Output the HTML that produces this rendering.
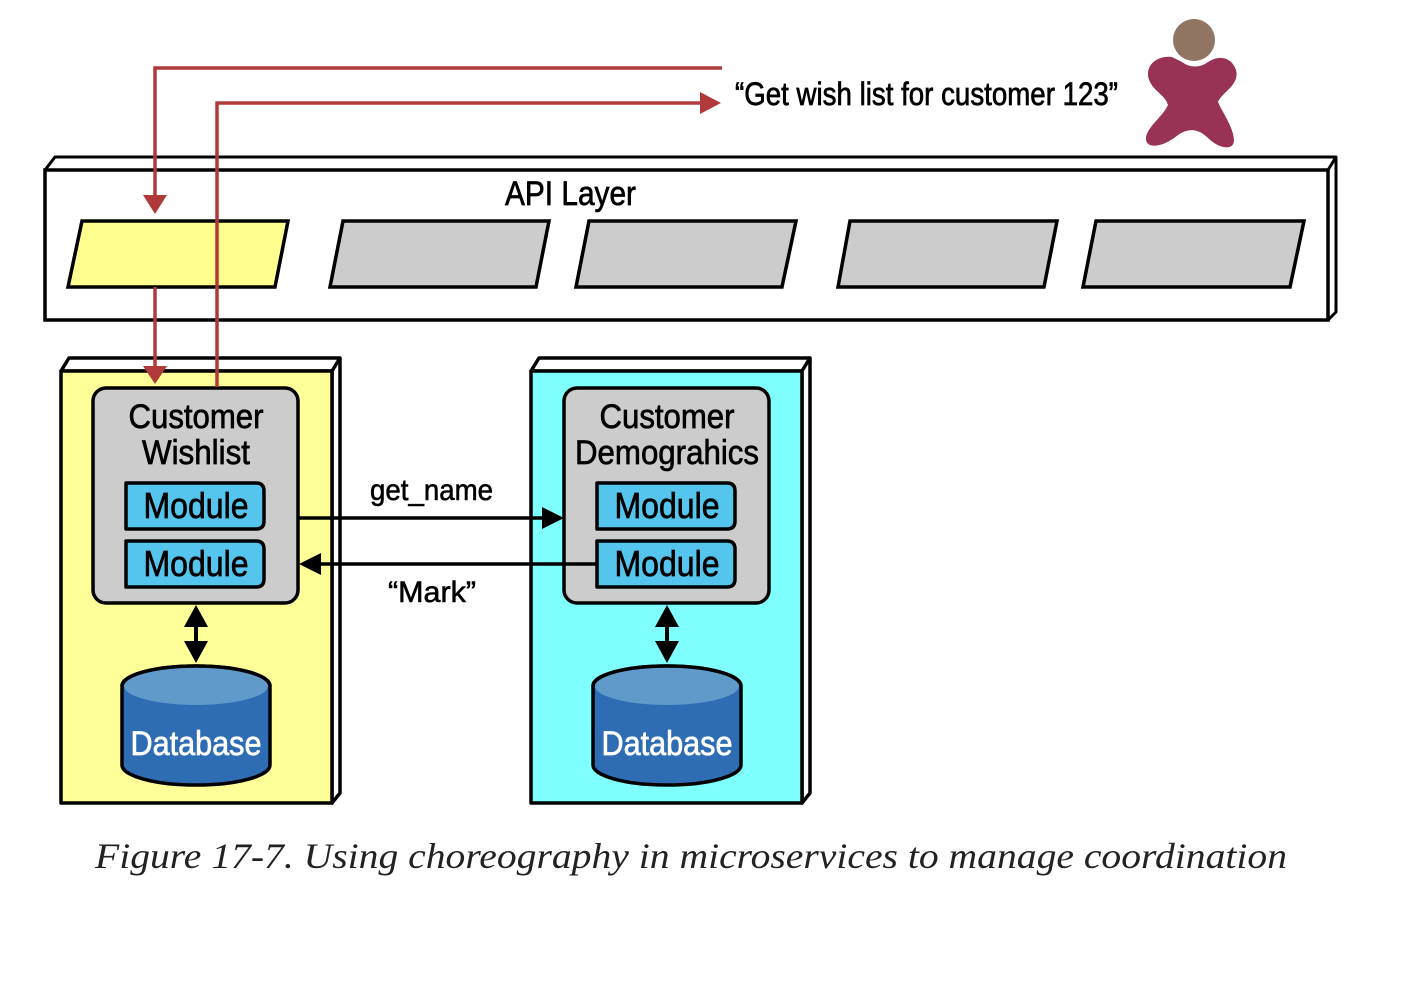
<!DOCTYPE html>
<html><head><meta charset="utf-8"><style>html,body{margin:0;padding:0;background:#fff}svg{display:block}</style></head>
<body>
<svg width="1414" height="1006" viewBox="0 0 1414 1006" xmlns="http://www.w3.org/2000/svg" font-family="Liberation Sans, sans-serif">
<!-- API layer -->
<polygon points="45,170 55,157 1336,157 1336,312 1328,320 1328,170" fill="#fff" stroke="#000" stroke-width="3" stroke-linejoin="round"/>
<line x1="1328" y1="170" x2="1336" y2="157" stroke="#000" stroke-width="3"/>
<rect x="45" y="170" width="1283" height="150" fill="#fff" stroke="#000" stroke-width="3.5"/>
<text x="505" y="205" font-size="34" stroke="#000" stroke-width="0.7" textLength="131" lengthAdjust="spacingAndGlyphs">API Layer</text>
<polygon points="82,221 288,221 275,287 68,287" fill="#ffff8f" stroke="#000" stroke-width="3.5"/>
<polygon points="343,221 549,221 536,287 330,287" fill="#cccccc" stroke="#000" stroke-width="3.5"/>
<polygon points="589,221 796,221 782,287 576,287" fill="#cccccc" stroke="#000" stroke-width="3.5"/>
<polygon points="850,221 1057,221 1044,287 838,287" fill="#cccccc" stroke="#000" stroke-width="3.5"/>
<polygon points="1096,221 1304,221 1290,287 1083,287" fill="#cccccc" stroke="#000" stroke-width="3.5"/>

<!-- person -->
<circle cx="1194" cy="40" r="21" fill="#8f7562"/>
<path d="M1172,57 C1155,55 1143,68 1150,82 C1155,92 1165,95 1168,105 C1162,118 1145,128 1146,140 C1148,150 1165,146 1178,135 C1188,128 1198,128 1208,138 C1218,148 1234,152 1234,140 C1233,126 1222,112 1218,102 C1222,92 1240,85 1236,70 C1232,58 1220,54 1208,62 C1200,68 1190,68 1182,62 Z" fill="#993355"/>

<text x="735" y="105" font-size="32" stroke="#000" stroke-width="0.7" textLength="383" lengthAdjust="spacingAndGlyphs">“Get wish list for customer 123”</text>

<!-- service boxes -->
<g stroke="#000" stroke-width="3.5" stroke-linejoin="round">
<polygon points="61,371 69,358 340,358 340,793 332,803 332,371" fill="#fff"/>
<line x1="332" y1="371" x2="340" y2="358"/>
<rect x="61" y="371" width="271" height="432" fill="#ffff99"/>
<polygon points="531,371 539,358 810,358 810,793 802,803 802,371" fill="#fff"/>
<line x1="802" y1="371" x2="810" y2="358"/>
<rect x="531" y="371" width="271" height="432" fill="#80ffff"/>
<rect x="93" y="388" width="205" height="215" rx="13" fill="#cccccc"/>
<rect x="564" y="388" width="205" height="215" rx="13" fill="#cccccc"/>
<path d="M126,483 H256 Q264,483 264,491 V521 Q264,529 256,529 H126 Z" fill="#55c5ee"/>
<path d="M126,541 H256 Q264,541 264,549 V579 Q264,587 256,587 H126 Z" fill="#55c5ee"/>
<path d="M597,483 H727 Q735,483 735,491 V521 Q735,529 727,529 H597 Z" fill="#55c5ee"/>
<path d="M597,541 H727 Q735,541 735,549 V579 Q735,587 727,587 H597 Z" fill="#55c5ee"/>
</g>

<!-- red arrows (on top) -->
<polyline points="722,68 155,68 155,200" fill="none" stroke="#b03a3a" stroke-width="3.5"/>
<polyline points="217,387 217,103 705,103" fill="none" stroke="#b03a3a" stroke-width="3.5"/>
<line x1="155" y1="287" x2="155" y2="370" stroke="#b03a3a" stroke-width="3.5"/>
<polygon points="143,366 167,366 155,384" fill="#b03a3a"/>
<polygon points="143,195 167,195 155,214" fill="#b03a3a"/>
<polygon points="700,92 700,114 721,103" fill="#b03a3a"/>

<g font-size="34" text-anchor="middle" stroke="#000" stroke-width="0.7">
<text x="196" y="428" textLength="135" lengthAdjust="spacingAndGlyphs">Customer</text>
<text x="196" y="464" textLength="108" lengthAdjust="spacingAndGlyphs">Wishlist</text>
<text x="196" y="518" font-size="36" textLength="105" lengthAdjust="spacingAndGlyphs">Module</text>
<text x="196" y="576" font-size="36" textLength="105" lengthAdjust="spacingAndGlyphs">Module</text>
<text x="667" y="428" textLength="135" lengthAdjust="spacingAndGlyphs">Customer</text>
<text x="667" y="464" textLength="184" lengthAdjust="spacingAndGlyphs">Demograhics</text>
<text x="667" y="518" font-size="36" textLength="105" lengthAdjust="spacingAndGlyphs">Module</text>
<text x="667" y="576" font-size="36" textLength="105" lengthAdjust="spacingAndGlyphs">Module</text>
</g>

<!-- connectors -->
<line x1="298" y1="518" x2="545" y2="518" stroke="#000" stroke-width="3.5"/>
<polygon points="542,507 542,529 564,518" fill="#000"/>
<line x1="597" y1="564" x2="318" y2="564" stroke="#000" stroke-width="3.5"/>
<polygon points="321,553 321,575 299,564" fill="#000"/>
<text x="370" y="500" font-size="30" stroke="#000" stroke-width="0.6" textLength="123" lengthAdjust="spacingAndGlyphs">get_name</text>
<text x="388" y="602" font-size="30" stroke="#000" stroke-width="0.6" textLength="88" lengthAdjust="spacingAndGlyphs">“Mark”</text>

<!-- db arrows -->
<g fill="#000">
<line x1="196" y1="615" x2="196" y2="652" stroke="#000" stroke-width="4"/>
<polygon points="184,627 208,627 196,605"/><polygon points="184,641 208,641 196,663"/>
<line x1="667" y1="615" x2="667" y2="652" stroke="#000" stroke-width="4"/>
<polygon points="655,627 679,627 667,605"/><polygon points="655,641 679,641 667,663"/>
</g>

<!-- databases -->
<g stroke="#000" stroke-width="3.5">
<path d="M122,686 V765 A74,20 0 0 0 270,765 V686 A74,20 0 0 0 122,686 Z" fill="#2e6db4"/>
<ellipse cx="196" cy="686" rx="72" ry="19" fill="#5f9acb" stroke="none"/>
<path d="M122,686 A74,20 0 0 1 270,686" fill="none"/>
<path d="M593,686 V765 A74,20 0 0 0 741,765 V686 A74,20 0 0 0 593,686 Z" fill="#2e6db4"/>
<ellipse cx="667" cy="686" rx="72" ry="19" fill="#5f9acb" stroke="none"/>
<path d="M593,686 A74,20 0 0 1 741,686" fill="none"/>
</g>
<g font-size="34" fill="#fff" text-anchor="middle" stroke="#fff" stroke-width="0.7">
<text x="196" y="755" textLength="131" lengthAdjust="spacingAndGlyphs">Database</text>
<text x="667" y="755" textLength="131" lengthAdjust="spacingAndGlyphs">Database</text>
</g>

<text x="95" y="868" font-family="Liberation Serif, serif" font-style="italic" font-size="36" fill="#222" textLength="1192" lengthAdjust="spacingAndGlyphs">Figure 17-7. Using choreography in microservices to manage coordination</text>
</svg>
</body></html>
